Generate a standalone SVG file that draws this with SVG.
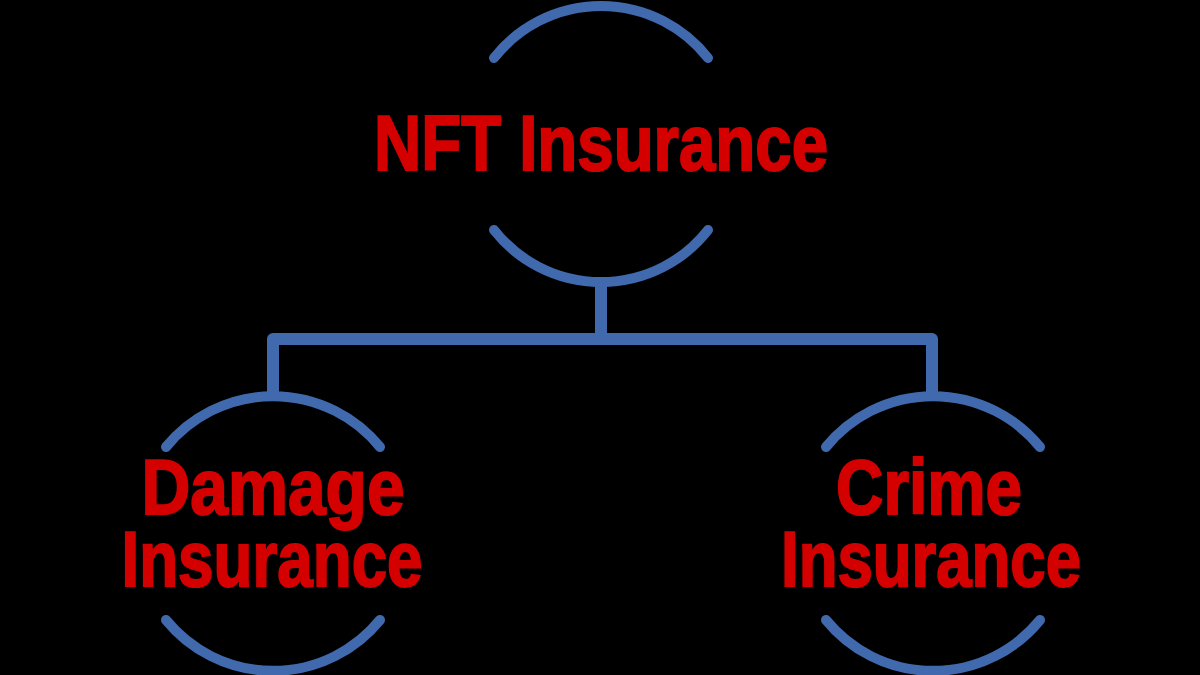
<svg xmlns="http://www.w3.org/2000/svg" width="1200" height="675" viewBox="0 0 1200 675">
  <style>
    .arc { fill: none; stroke: #4169ad; stroke-width: 10; stroke-linecap: round; }
    .conn { fill: none; stroke: #4169ad; stroke-width: 12; stroke-linejoin: round; }
    .lbl { font-family: "Liberation Sans", Arial, sans-serif; font-weight: bold; font-size: 78px; fill: #d40000; stroke: #d40000; stroke-width: 2; text-anchor: middle; }
  </style>
  <rect x="0" y="0" width="1200" height="675" fill="#000000"/>
  <g id="connectors">
    <path class="conn" d="M601 280 V339 M273 395 V339 H932 V395"/>
  </g>
  <g id="node-nft">
    <path class="arc" d="M494 58 A136 136 0 0 1 708 58"/>
    <path class="arc" d="M494 230 A136 136 0 0 0 708 230"/>
    <text class="lbl" x="601" y="170" textLength="454" lengthAdjust="spacingAndGlyphs">NFT Insurance</text>
  </g>
  <g id="node-damage">
    <path class="arc" d="M166 447 A138 138 0 0 1 380 447"/>
    <path class="arc" d="M166 620 A138 138 0 0 0 380 620"/>
    <text class="lbl" x="273" y="514" textLength="263" lengthAdjust="spacingAndGlyphs">Damage</text>
    <text class="lbl" x="272" y="586" textLength="301" lengthAdjust="spacingAndGlyphs">Insurance</text>
  </g>
  <g id="node-crime">
    <path class="arc" d="M826 447 A138 138 0 0 1 1040 447"/>
    <path class="arc" d="M826 620 A138 138 0 0 0 1040 620"/>
    <text class="lbl" x="929" y="514" textLength="186" lengthAdjust="spacingAndGlyphs">Crime</text>
    <text class="lbl" x="931" y="586" textLength="300" lengthAdjust="spacingAndGlyphs">Insurance</text>
  </g>
</svg>
